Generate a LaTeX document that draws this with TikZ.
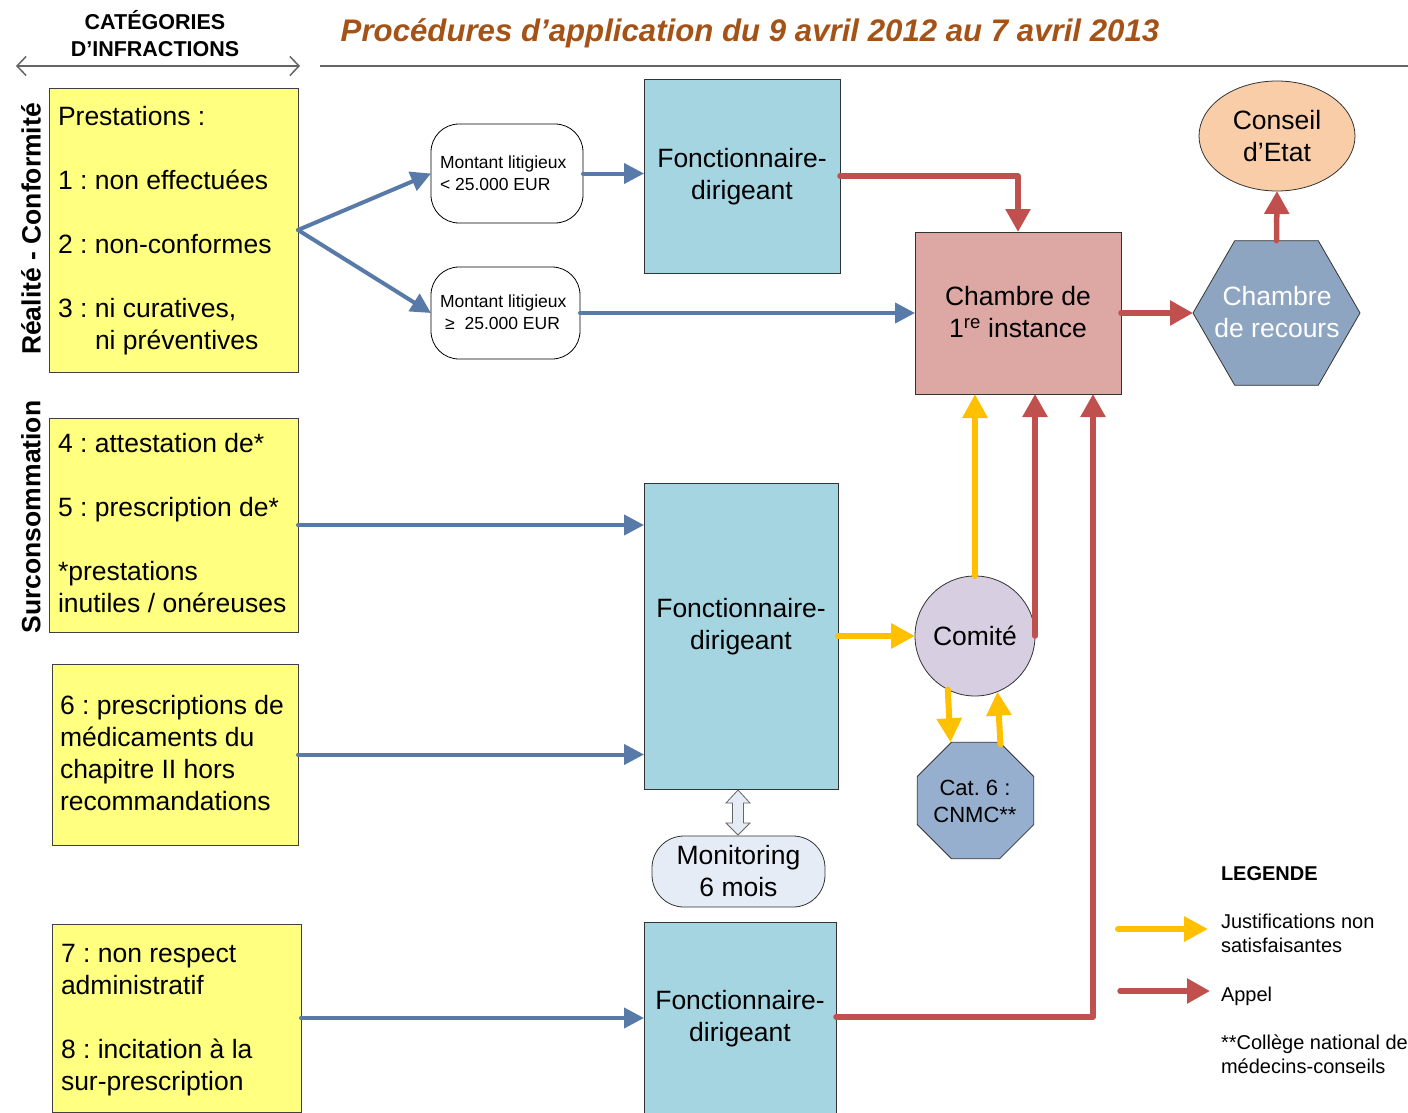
\documentclass[tikz,border=0pt]{standalone}
\usepackage{fontspec}
\setmainfont{Liberation Sans}
\usetikzlibrary{arrows.meta,shapes.geometric,calc}
\frenchspacing

\definecolor{ybox}{RGB}{255,255,128}
\definecolor{fdblue}{RGB}{166,213,226}
\definecolor{chpink}{RGB}{221,167,163}
\definecolor{hexblue}{RGB}{142,165,193}
\definecolor{peach}{RGB}{249,205,168}
\definecolor{lav}{RGB}{216,206,225}
\definecolor{octblue}{RGB}{150,175,207}
\definecolor{monfill}{RGB}{229,236,246}
\definecolor{arrblue}{RGB}{88,122,168}
\definecolor{arrred}{RGB}{192,80,77}
\definecolor{arryel}{RGB}{255,192,0}
\definecolor{titlec}{RGB}{165,82,22}
\definecolor{rulegray}{RGB}{100,100,100}

\newcommand\fsA{\fontsize{26.5pt}{32pt}\selectfont}
\newcommand\fsB{\fontsize{17.5pt}{22pt}\selectfont}
\newcommand\fsC{\fontsize{22pt}{27pt}\selectfont}
\newcommand\fsL{\fontsize{20pt}{24pt}\selectfont}
\newcommand\fsLB{\fontsize{20pt}{24pt}\selectfont\bfseries}
\newcommand\fsH{\fontsize{21.5pt}{27pt}\selectfont\bfseries}
\newcommand\fsT{\fontsize{31.2pt}{36pt}\selectfont\bfseries\itshape}
\newcommand\fsV{\fontsize{26.5pt}{32pt}\selectfont\bfseries}

\begin{document}
\begin{tikzpicture}[x=1pt,y=-1pt,
  every node/.style={inner sep=0pt, outer sep=0pt},
  ybx/.style={draw=black!75, line width=0.8pt, fill=ybox, anchor=north west},
  fdbx/.style={draw=black!80, line width=0.8pt, fill=fdblue, anchor=north west},
  ytxt/.style={anchor=west, align=left, font=\fsA},
  ctxt/.style={align=center, font=\fsA},
  mbx/.style={draw=black, line width=0.8pt, fill=white, rounded corners=28pt, anchor=north west},
  bluearr/.style={draw=arrblue, line width=4pt, line cap=round, -{Triangle[length=20pt,width=20pt]}},
  redarr/.style={draw=arrred, line width=5.5pt, line cap=round, line join=round, -{Triangle[length=23pt,width=24pt]}},
  yelarr/.style={draw=arryel, line width=6pt, line cap=round, line join=round, -{Triangle[length=24pt,width=24pt]}},
]
\fill[white] (0,0) rectangle (1408,1113);
\useasboundingbox (0,0) rectangle (1408,1113);

% header
\node[font=\fsH, align=center] (hd) at (155,34) {CATÉGORIES\\D’INFRACTIONS};
\coordinate (ha) at (16,66);
\coordinate (hb) at (300,66);
\draw[rulegray, line width=1.5pt, {Straight Barb[length=9pt,width=19pt]}-{Straight Barb[length=9pt,width=19pt]}] (ha) -- (hb);
\coordinate (ra) at (320,66);
\coordinate (rb) at (1408,66);
\draw[rulegray, line width=2pt] (ra) -- (rb);
\node[font=\fsT, text=titlec, anchor=base] (title) at (750,42) {Procédures d’application du 9 avril 2012 au 7 avril 2013};

% vertical labels
\node[rotate=90, font=\fsV] (v1) at (31,229) {Réalité - Conformité};
\node[rotate=90, font=\fsV] (v2) at (31,517) {Surconsommation};

% yellow boxes
\node[ybx, minimum width=249pt, minimum height=284pt] (y1) at (49,88) {};
\node[ybx, minimum width=249pt, minimum height=214pt] (y2) at (49,418) {};
\node[ybx, minimum width=246pt, minimum height=181pt] (y3) at (52,664) {};
\node[ybx, minimum width=249pt, minimum height=188pt] (y4) at (52,924) {};

\node[ytxt] (t1) at (58,231) {Prestations :\\[32pt]1 : non effectuées\\[32pt]2 : non-conformes\\[32pt]3 : ni curatives,\\\hspace*{37pt}ni préventives};
\node[ytxt] (t2) at (58,523) {4 : attestation de*\\[32pt]5 : prescription de*\\[32pt]*prestations\\inutiles / onéreuses};
\node[ytxt] (t3) at (60,753) {6 : prescriptions de\\médicaments du\\chapitre II hors\\recommandations};
\node[ytxt] (t4) at (61,1020) {7 : non respect\\administratif\\[32pt]8 : incitation à la\\sur-prescription};

% montant boxes
\node[mbx, minimum width=152pt, minimum height=99pt] (m1) at (431,124) {};
\node[anchor=west, align=left, font=\fsB] (m1t) at (440,173) {Montant litigieux\\< 25.000 EUR};
\node[mbx, minimum width=149pt, minimum height=92pt] (m2) at (431,267) {};
\node[anchor=west, align=left, font=\fsB] (m2t) at (440,312) {Montant litigieux\\\hspace*{5pt}≥\hspace*{10pt}25.000 EUR};

% fonctionnaire boxes
\node[fdbx, minimum width=196pt, minimum height=194pt] (fd1) at (644,79) {};
\node[ctxt] (fd1t) at (742,177) {Fonctionnaire-\\dirigeant};
\node[fdbx, minimum width=194pt, minimum height=306pt] (fd2) at (644,483) {};
\node[ctxt] (fd2t) at (741,627) {Fonctionnaire-\\dirigeant};
\node[fdbx, minimum width=192pt, minimum height=200pt] (fd3) at (644,922) {};
\node[ctxt] (fd3t) at (740,1019) {Fonctionnaire-\\dirigeant};

% chambre 1re instance
\node[draw=black!80, line width=0.8pt, fill=chpink, minimum width=206pt, minimum height=162pt, anchor=north west] (ch) at (915,232) {};
\node[ctxt] (cht) at (1018,312) {Chambre de\\1\textsuperscript{re} instance};

% chambre de recours
\node[regular polygon, regular polygon sides=6, minimum size=167pt, draw=black!80, line width=0.8pt, fill=hexblue] (hex) at (1276.5,313) {};
\node[ctxt, text=white] (hext) at (1277,312) {Chambre\\de recours};

% conseil d'etat
\node[ellipse, draw=black!80, line width=0.8pt, fill=peach, minimum width=156pt, minimum height=110pt, align=center, font=\fsA] (ce) at (1277,136) {Conseil\\d’Etat};

% comite
\node[circle, draw=black!80, line width=0.8pt, fill=lav, minimum size=120pt, font=\fsA] (com) at (975,636) {Comité};

% cat 6
\node[regular polygon, regular polygon sides=8, minimum size=126pt, draw=black!80, line width=0.8pt, fill=octblue] (oct) at (975.5,800.5) {};
\node[align=center, font=\fsC] (octt) at (975,801) {Cat. 6 :\\CNMC**};

% monitoring
\node[draw=black!80, line width=0.8pt, fill=monfill, rounded corners=32pt, minimum width=173pt, minimum height=71pt, anchor=north west] (mon) at (652,836) {};
\node[ctxt] (mont) at (738.5,871) {Monitoring\\6 mois};

% double block arrow
\coordinate (da) at ($(fd2.south)+(-3,1)$);
\filldraw[fill=monfill, draw=black!60, line width=0.8pt, line join=miter]
  (da) -- ++(12,13) -- ++(-6.5,0) -- ++(0,20) -- ++(6.5,0) -- ++(-12,12)
  -- ++(-12,-12) -- ++(6.5,0) -- ++(0,-20) -- ++(-6.5,0) -- cycle;

% blue arrows
\draw[bluearr] (y1.east) -- (m1.west);
\draw[bluearr] (y1.east) -- (m2.west);
\draw[bluearr] (m1.east) -- (m1.east -| fd1.west);
\draw[bluearr] (m2.east) -- (m2.east -| ch.west);
\draw[bluearr] (y2.east) -- (y2.east -| fd2.west);
\draw[bluearr] (y3.east) -- (y3.east -| fd2.west);
\draw[bluearr] (y4.east) -- (y4.east -| fd3.west);

% red arrows
\draw[redarr] (fd1.east) -| (ch.north);
\draw[redarr] (ch.east) -- (hex.west);
\draw[redarr] (hex.north) -- (ce.south);
\draw[redarr] (com.east) -- (com.east |- ch.south);
\draw[redarr] ($(fd3.north east)+(0,95)$) -| ($(ch.south)+(75,0)$);

% yellow arrows
\draw[yelarr] (fd2.east) -- (com.west);
\draw[yelarr] (com.north) -- (com.north |- ch.south);
\draw[yelarr] (com.243) -- ($(oct.north)+(-25,0)$);
\draw[yelarr] ($(oct.north)+(25,2)$) -- (com.292);

% legend
\node[font=\fsLB, anchor=base west] (leg) at (1221,880) {LEGENDE};
\coordinate (ly1) at (1118,929);
\coordinate (ly2) at (1208,929);
\draw[yelarr] (ly1) -- (ly2);
\node[font=\fsL, anchor=west, align=left] (lj) at (1221,933) {Justifications non\\satisfaisantes};
\coordinate (lr1) at (1120,991);
\coordinate (lr2) at (1210,991);
\draw[redarr] (lr1) -- (lr2);
\node[font=\fsL, anchor=base west] (la) at (1221,1001) {Appel};
\node[font=\fsL, anchor=west, align=left] (lc) at (1221,1054) {**Collège national de\\médecins-conseils};
\end{tikzpicture}
\end{document}
